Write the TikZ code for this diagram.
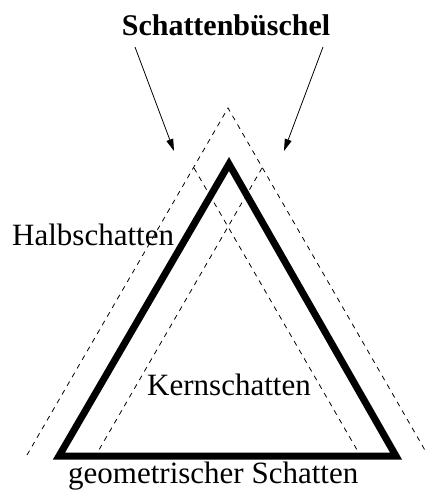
\documentclass[tikz,border=0pt]{standalone}
\usepackage{fontspec}
\setmainfont{Liberation Serif}
\usetikzlibrary{arrows.meta}
\begin{document}
\begin{tikzpicture}[x=1pt,y=-1pt,
  lbl/.style={inner sep=0pt,font=\fontsize{31}{31}\selectfont},
  ttl/.style={inner sep=0pt,font=\fontsize{30}{30}\selectfont\bfseries},
  shadowline/.style={line width=0.8pt,dash pattern=on 5pt off 5pt},
  body/.style={line width=7pt,line join=miter,miter limit=3},
  pointer/.style={line width=0.8pt,-{Triangle[length=12pt,width=7pt]}}]
\useasboundingbox (0,0) rectangle (426,490);
\begin{scope}
\clip (0,0) rectangle (426,490);
% dashed shadow bundle
\coordinate (oa) at (228,108);
\coordinate (ol) at (27,455);
\coordinate (or) at (426,452);
\coordinate (la) at (194,168);
\coordinate (lb) at (360,455);
\coordinate (ra) at (262,168);
\coordinate (rb) at (96,455);
\draw[shadowline] (ol) -- (oa) -- (or);
\draw[shadowline] (la) -- (lb);
\draw[shadowline] (ra) -- (rb);
% thick object triangle
\coordinate (ta) at (229,164);
\coordinate (tl) at (59,456);
\coordinate (tr) at (396,456);
\draw[body] (tl) -- (ta) -- (tr) -- cycle;
\end{scope}
% labels
\node[ttl,anchor=base] (title) at (226,35) {Schattenbüschel};
\node[lbl,anchor=base west] (halb) at (12,245) {Halbschatten};
\node[lbl,anchor=base] (kern) at (229,395) {Kernschatten};
\node[lbl,anchor=base west] (geo) at (68,483) {geometrischer Schatten};
% arrows
\coordinate (s1) at (135,47);
\coordinate (e1) at (174,151);
\coordinate (s2) at (323,47);
\coordinate (e2) at (284,151);
\draw[pointer] (s1) -- (e1);
\draw[pointer] (s2) -- (e2);
\end{tikzpicture}
\end{document}
